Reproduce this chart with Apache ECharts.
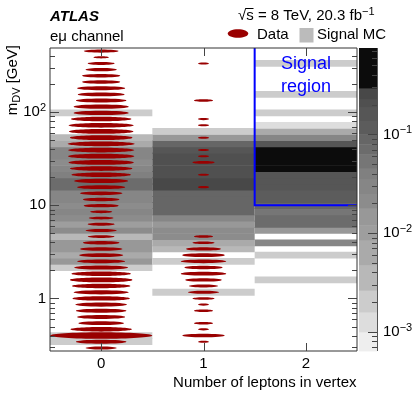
<!DOCTYPE html>
<html><head><meta charset="utf-8">
<script src="https://cdn.jsdelivr.net/npm/echarts@6/dist/echarts.min.js"></script>
<style>html,body{margin:0;padding:0;background:#fff}#c{width:415px;height:399px}</style>
</head><body><div id="c"></div>
<script>
// ================= DATA =================
const categories = ['0', '1', '2'];              // number of leptons in vertex
const massMin = 0.2733;                           // m_DV axis range [GeV]
const massMax = 487.5;
const nBins = 49;                                 // log-spaced m_DV bins
const yMajorTicks = [1, 10, 100];
const yMinorTicks = [0.3,0.4,0.5,0.6,0.7,0.8,0.9,2,3,4,5,6,7,8,9,20,30,40,50,60,70,80,90,200,300,400];
const zMin = 6.4e-4, zMax = 0.75;                 // colour-scale range
const zMajorTicks = [0.001, 0.01, 0.1];
const zMinorTicks = [7e-4,8e-4,9e-4,0.002,0.003,0.004,0.005,0.006,0.007,0.008,0.009,
                     0.02,0.03,0.04,0.05,0.06,0.07,0.08,0.09,0.2,0.3,0.4,0.5,0.6,0.7];
const signalMinLeptons = 2;
const signalMinMass = 10;
// Data (events per bin, bin 0 = lowest mass)
const dataCol0 = [8,21,86,31,17,19,21,22,27,25,28,32,29,24,19,16,15,11,6,8,6,5,4,10,11,15,19,24,29,32,35,36,36,37,32,34,35,30,25,25,21,18,19,12,12,8,6,2,10];
const dataCol1 = [0,1,15,1,3,0,3,1,4,8,7,11,17,12,17,15,10,4,3,0,0,0,0,0,0,0,1,0,1,0,4,1,1,0,1,0,1,1,0,0,3,0,0,0,0,0,1,0,0];
const dataCol2 = [0,0,0,0,0,0,0,0,0,0,0,0,0,0,0,0,0,0,0,0,0,0,0,0,0,0,0,0,0,0,0,0,0,0,0,0,0,0,0,0,0,0,0,0,0,0,0,0,0];
// Signal MC fraction per bin
const mcCol0 = [0,0.002,0.002,0,0,0,0,0,0,0,0,0,0,0.002,0.015,0.0063,0.015,0.015,0.004,0.021,0.01,0.021,0.028,0.023,0.028,0.028,0.07,0.07,0.04,0.033,0.023,0.028,0.028,0.0063,0.0035,0,0,0,0.002,0,0,0,0,0,0,0,0,0,0];
const mcCol1 = [0,0,0,0,0,0,0,0,0,0.002,0,0,0,0,0.002,0,0.0035,0.0063,0.023,0.021,0.015,0.028,0.089,0.089,0.089,0.089,0.26,0.26,0.21,0.21,0.22,0.21,0.16,0.089,0.014,0.002,0,0,0,0,0,0,0,0,0,0,0,0,0];
const mcCol2 = [0,0,0,0,0,0,0,0,0,0,0,0.002,0,0,0,0.002,0,0.028,0,0.014,0.071,0.071,0.054,0.089,0.1,0.12,0.16,0.16,0.16,0.4,0.4,0.4,0.4,0.16,0.028,0.0063,0.00126,0,0.002,0,0,0.002,0,0,0,0,0.002,0,0];

// ================= STYLE =================
const FONT = 'Liberation Sans, Arial, Helvetica, sans-serif';
const RED = '#990000';
const ELLIPSE_FULL_COUNT = 86;
// grey palette bands: [log10 z low, log10 z high, grey level]
const PALETTE = [
  [-3.3,-3.0,0xee],[-3.0,-2.8,0xdd],[-2.8,-2.58,0xcc],[-2.58,-2.32,0xb8],[-2.32,-2.07,0xaa],
  [-2.07,-1.92,0x9e],[-1.92,-1.75,0x98],[-1.75,-1.6,0x8c],[-1.6,-1.45,0x86],[-1.45,-1.34,0x80],
  [-1.34,-1.2,0x76],[-1.2,-1.1,0x6c],[-1.1,-1.0,0x66],[-1.0,-0.86,0x5c],[-0.86,-0.72,0x56],
  [-0.72,-0.64,0x50],[-0.64,-0.53,0x48],[-0.53,-0.05,0x0c]
];
function greyStr(g){ return 'rgb(' + g + ',' + g + ',' + g + ')'; }
function greyOf(z){
  const l = Math.log10(z);
  for (const b of PALETTE) if (l >= b[0] && l < b[1]) return greyStr(b[2]);
  return l < -3 ? greyStr(0xee) : greyStr(0x0c);
}

const LOG_MIN = Math.log10(massMin), LOG_MAX = Math.log10(massMax);
const BIN_W = (LOG_MAX - LOG_MIN) / nBins;
const binEdge = i => Math.pow(10, LOG_MIN + i * BIN_W);
const binMid = i => Math.pow(10, LOG_MIN + (i + 0.5) * BIN_W);

const heatData = [];
[mcCol0, mcCol1, mcCol2].forEach((arr, c) => arr.forEach((z, i) => {
  if (z > 0) heatData.push([c, binEdge(i), binEdge(i + 1), z]);
}));
const evData = [];
[dataCol0, dataCol1, dataCol2].forEach((arr, c) => arr.forEach((n, i) => {
  if (n > 0) evData.push([c, binMid(i), n]);
}));
const barData = PALETTE.map(b => [0.5, Math.pow(10, b[0]), Math.pow(10, b[1]), b[2]]);

const chart = echarts.init(document.getElementById('c'), null, {renderer: 'canvas', width: 415, height: 399});

const TICK = '#444';
function line(x1, y1, x2, y2, color, w){
  return {type: 'line', shape: {x1, y1, x2, y2}, style: {stroke: color || TICK, lineWidth: w || 1}};
}

const option = {
  animation: false,
  backgroundColor: '#fff',
  grid: [
    {left: 50, top: 48, width: 307, height: 303, containLabel: false, outerBoundsMode: 'none'},
    {left: 359, top: 48, width: 18, height: 303, containLabel: false, outerBoundsMode: 'none'}
  ],
  xAxis: [
    {type: 'category', gridIndex: 0, data: categories, boundaryGap: true,
     axisLine: {show: false}, axisTick: {show: false}, splitLine: {show: false},
     axisLabel: {fontSize: 15, fontFamily: FONT, color: '#000', margin: 5}},
    {type: 'value', gridIndex: 1, min: 0, max: 1, show: false}
  ],
  yAxis: [
    {type: 'log', gridIndex: 0, logBase: 10, min: massMin, max: massMax,
     axisLine: {show: false}, axisTick: {show: false}, splitLine: {show: false}, minorTick: {show: false},
     axisLabel: {fontSize: 15, fontFamily: FONT, color: '#000', margin: 4, showMinLabel: false, showMaxLabel: false,
       formatter: v => {
         const l = Math.log10(v), e = Math.round(l);
         if (Math.abs(l - e) > 1e-6 || yMajorTicks.indexOf(Math.pow(10, e)) < 0) return '';
         return e === 0 ? '1' : e === 1 ? '10' : '10{sup|' + e + '}';
       },
       rich: {sup: {fontSize: 11, fontFamily: FONT, color: '#000', lineHeight: 11, padding: [0, 0, 8, 0]}}}},
    {type: 'log', gridIndex: 1, logBase: 10, min: zMin, max: zMax, position: 'right',
     axisLine: {show: false}, axisTick: {show: false}, splitLine: {show: false},
     axisLabel: {fontSize: 15, fontFamily: FONT, color: '#000', margin: 6, showMinLabel: false, showMaxLabel: false,
       formatter: v => {
         const l = Math.log10(v), e = Math.round(l);
         if (Math.abs(l - e) > 1e-6) return '';
         return '10{sup|\u2212' + (-e) + '}';
       },
       rich: {sup: {fontSize: 11, fontFamily: FONT, color: '#000', lineHeight: 11, padding: [0, 0, 8, 0]}}}}
  ],
  series: [
    { // Signal MC heat map
      type: 'custom', xAxisIndex: 0, yAxisIndex: 0, z: 1, silent: true,
      encode: {x: 0, y: [1, 2]}, data: heatData,
      renderItem: (params, api) => {
        const c = api.value(0);
        const pLo = api.coord([c, api.value(1)]), pHi = api.coord([c, api.value(2)]);
        const bw = api.coord([1, 1])[0] - api.coord([0, 1])[0];
        return {type: 'rect', shape: {x: pLo[0] - bw / 2, y: pHi[1] - 0.3, width: bw, height: pLo[1] - pHi[1] + 0.6},
                style: {fill: greyOf(api.value(3))}};
      }
    },
    { // Data ellipses
      type: 'custom', xAxisIndex: 0, yAxisIndex: 0, z: 2, silent: true,
      encode: {x: 0, y: 1}, data: evData,
      renderItem: (params, api) => {
        const p = api.coord([api.value(0), api.value(1)]);
        const bw = api.coord([1, 1])[0] - api.coord([0, 1])[0];
        const w = bw * Math.sqrt(api.value(2) / ELLIPSE_FULL_COUNT);
        const h = 1.5 + 0.05 * w;
        return {type: 'ellipse', shape: {cx: p[0], cy: p[1], rx: w / 2, ry: h / 2}, style: {fill: RED}};
      }
    },
    { // Signal region boundary
      type: 'custom', xAxisIndex: 0, yAxisIndex: 0, z: 3, silent: true,
      encode: {x: 0, y: 1}, data: [[signalMinLeptons, signalMinMass]],
      renderItem: (params, api) => {
        const cs = params.coordSys;
        const p = api.coord([api.value(0), api.value(1)]);
        const bw = api.coord([1, 1])[0] - api.coord([0, 1])[0];
        const xl = p[0] - bw / 2;
        return {type: 'polyline', shape: {points: [[xl, cs.y], [xl, p[1]], [cs.x + cs.width, p[1]]]},
                style: {stroke: '#0000ff', lineWidth: 2, fill: null}};
      }
    },
    { // y-axis ticks (left & right)
      type: 'custom', xAxisIndex: 0, yAxisIndex: 0, z: 4, silent: true,
      encode: {x: 0, y: 1},
      data: yMajorTicks.map(v => [0, v, 1]).concat(yMinorTicks.map(v => [0, v, 0])),
      renderItem: (params, api) => {
        const cs = params.coordSys;
        const y = Math.round(api.coord([0, api.value(1)])[1]) + 0.5;
        const len = api.value(2) ? 9 : 5;
        return {type: 'group', children: [
          line(cs.x, y, cs.x + len, y), line(cs.x + cs.width - len, y, cs.x + cs.width, y)]};
      }
    },
    { // x-axis ticks (bottom & top) + frame
      type: 'custom', xAxisIndex: 0, yAxisIndex: 0, z: 5, silent: true,
      encode: {x: 0, y: 1}, data: categories.map((c, i) => [i, 1]),
      renderItem: (params, api) => {
        const cs = params.coordSys;
        const x = Math.round(api.coord([api.value(0), 1])[0]) + 0.5;
        const ch = [line(x, cs.y + cs.height, x, cs.y + cs.height - 8), line(x, cs.y, x, cs.y + 8)];
        if (params.dataIndex === 0) ch.push({type: 'rect', shape: {x: cs.x, y: cs.y, width: cs.width, height: cs.height},
          style: {stroke: '#333', lineWidth: 1, fill: null}});
        return {type: 'group', children: ch};
      }
    },
    { // colour bar
      type: 'custom', xAxisIndex: 1, yAxisIndex: 1, z: 1, silent: true,
      encode: {x: 0, y: [1, 2]}, data: barData,
      renderItem: (params, api) => {
        const cs = params.coordSys;
        const yLo = api.coord([0.5, Math.max(api.value(1), zMin)])[1];
        const yHi = api.coord([0.5, Math.min(api.value(2), zMax)])[1];
        if (!(yLo > yHi)) return null;
        return {type: 'rect', shape: {x: cs.x, y: yHi, width: cs.width, height: yLo - yHi + 0.4},
                style: {fill: greyStr(api.value(3))}};
      }
    },
    { // colour bar ticks + axis line
      type: 'custom', xAxisIndex: 1, yAxisIndex: 1, z: 3, silent: true,
      encode: {x: 0, y: 1},
      data: zMajorTicks.map(v => [0.5, v, 1]).concat(zMinorTicks.map(v => [0.5, v, 0])),
      renderItem: (params, api) => {
        const cs = params.coordSys;
        const y = Math.round(api.coord([0.5, api.value(1)])[1]) + 0.5;
        const len = api.value(2) ? 9 : 5;
        const xr = cs.x + cs.width;
        const ch = [line(xr - len, y, xr, y)];
        if (params.dataIndex === 0) ch.push(line(xr + 0.5, cs.y, xr + 0.5, cs.y + cs.height, '#555'));
        return {type: 'group', children: ch};
      }
    }
  ],
  graphic: {elements: [
    {type: 'text', x: 50, y: 16.5, style: {text: 'ATLAS', fontFamily: FONT, fontSize: 15, fontWeight: 'bold',
      fontStyle: 'italic', fill: '#000', align: 'left', verticalAlign: 'middle'}},
    {type: 'text', x: 50, y: 37, style: {text: 'e\u03bc channel', fontFamily: FONT, fontSize: 15,
      fill: '#000', align: 'left', verticalAlign: 'middle'}},
    {type: 'text', x: 238, y: 16, style: {text: '\u221as = 8 TeV, 20.3 fb{sup|\u22121}', fontFamily: FONT, fontSize: 15,
      fill: '#000', align: 'left', verticalAlign: 'middle',
      rich: {sup: {fontSize: 11, fontFamily: FONT, fill: '#000', lineHeight: 11, padding: [0, 0, 8, 0]}}}},
    {type: 'line', shape: {x1: 246, y1: 8.5, x2: 253.5, y2: 8.5}, style: {stroke: '#000', lineWidth: 1}},
    {type: 'ellipse', shape: {cx: 238, cy: 33.5, rx: 10.3, ry: 4.3}, style: {fill: RED}},
    {type: 'text', x: 257, y: 35, style: {text: 'Data', fontFamily: FONT, fontSize: 15, fill: '#000',
      align: 'left', verticalAlign: 'middle'}},
    {type: 'rect', shape: {x: 299.5, y: 28, width: 14, height: 14.5}, style: {fill: '#bbbbbb'}},
    {type: 'text', x: 317, y: 35, style: {text: 'Signal MC', fontFamily: FONT, fontSize: 15, fill: '#000',
      align: 'left', verticalAlign: 'middle'}},
    {type: 'text', x: 306, y: 64, z: 10, style: {text: 'Signal', fontFamily: FONT, fontSize: 18, fill: '#0000ff',
      align: 'center', verticalAlign: 'middle'}},
    {type: 'text', x: 306, y: 87, z: 10, style: {text: 'region', fontFamily: FONT, fontSize: 18, fill: '#0000ff',
      align: 'center', verticalAlign: 'middle'}},
    {type: 'text', x: 356.5, y: 383, style: {text: 'Number of leptons in vertex', fontFamily: FONT, fontSize: 15,
      fill: '#000', align: 'right', verticalAlign: 'middle'}},
    {type: 'text', x: 13, y: 45, rotation: Math.PI / 2, style: {text: 'm{sub|DV} [GeV]', fontFamily: FONT, fontSize: 15,
      fill: '#000', align: 'right', verticalAlign: 'middle',
      rich: {sub: {fontSize: 11, fontFamily: FONT, fill: '#000', lineHeight: 11, padding: [7, 0, 0, 0]}}}}
  ]}
};
chart.setOption(option);
</script>
</body></html>
